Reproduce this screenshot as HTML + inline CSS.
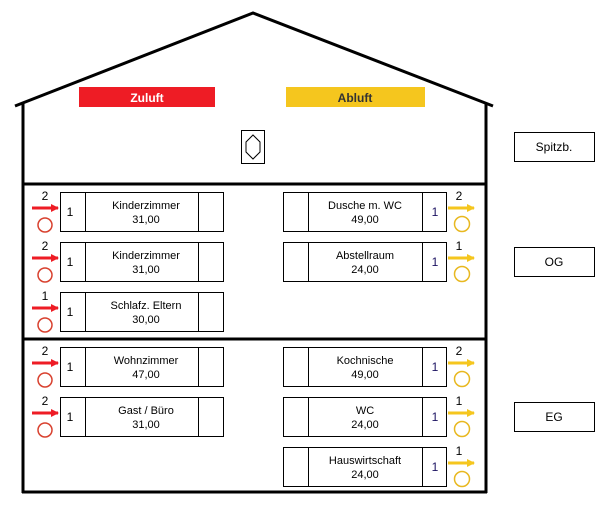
<!DOCTYPE html>
<html><head><style>
body{margin:0;background:#fff;}
svg text{font-family:"Liberation Sans",sans-serif;}
</style></head><body>
<svg width="613" height="514" viewBox="0 0 613 514" xmlns="http://www.w3.org/2000/svg">
<defs>
<marker id="ar" markerWidth="8" markerHeight="8" refX="7" refY="4" orient="auto" markerUnits="userSpaceOnUse"><path d="M0,0 L8,4 L0,8 z" fill="#ee1c25"/></marker>
<marker id="ay" markerWidth="8" markerHeight="8" refX="7" refY="4" orient="auto" markerUnits="userSpaceOnUse"><path d="M0,0 L8,4 L0,8 z" fill="#f5c61e"/></marker>
</defs>
<g stroke="#000" stroke-width="3" fill="none">
<polyline points="15,106 253,13 493,106"/>
<line x1="23" y1="103" x2="23" y2="493"/>
<line x1="486" y1="103" x2="486" y2="493"/>
<line x1="22" y1="492" x2="487" y2="492"/>
<line x1="22" y1="184" x2="487" y2="184"/>
<line x1="22" y1="339" x2="487" y2="339"/>
</g>
<rect x="79" y="87" width="136" height="20" fill="#ee1c25"/>
<text x="147" y="102" text-anchor="middle" font-size="12" font-weight="bold" fill="#fff">Zuluft</text>
<rect x="286" y="87" width="139" height="20" fill="#f5c61e"/>
<text x="355" y="102" text-anchor="middle" font-size="12" font-weight="bold" fill="#333">Abluft</text>
<rect x="241.5" y="130.5" width="23" height="33" fill="none" stroke="#000"/>
<polygon points="253,135 260,142 260,152 253,159 246,152 246,142" fill="none" stroke="#000"/>
<g fill="none" stroke="#000">
<rect x="514.5" y="132.5" width="80" height="29"/>
<rect x="514.5" y="247.5" width="80" height="29"/>
<rect x="514.5" y="402.5" width="80" height="29"/>
</g>
<g font-size="12" text-anchor="middle">
<text x="554" y="151">Spitzb.</text>
<text x="554" y="266">OG</text>
<text x="554" y="421">EG</text>
</g>
<g font-size="11" text-anchor="middle" stroke-width="1">
<!-- left rooms -->
<g transform="translate(0,0)">
<rect x="60.5" y="192.5" width="163" height="39" fill="none" stroke="#000"/><line x1="85.5" y1="192" x2="85.5" y2="232" stroke="#000"/><line x1="198.5" y1="192" x2="198.5" y2="232" stroke="#000"/>
<text x="70" y="216" font-size="12">1</text><text x="146" y="209">Kinderzimmer</text><text x="146" y="223">31,00</text>
<text x="45" y="200" font-size="12">2</text><line x1="32" y1="208" x2="58" y2="208" stroke="#ee1c25" stroke-width="3" marker-end="url(#ar)"/><circle cx="45" cy="225" r="7" fill="none" stroke="#d8402e" stroke-width="1.5"/>
</g>
<g transform="translate(0,50)">
<rect x="60.5" y="192.5" width="163" height="39" fill="none" stroke="#000"/><line x1="85.5" y1="192" x2="85.5" y2="232" stroke="#000"/><line x1="198.5" y1="192" x2="198.5" y2="232" stroke="#000"/>
<text x="70" y="216" font-size="12">1</text><text x="146" y="209">Kinderzimmer</text><text x="146" y="223">31,00</text>
<text x="45" y="200" font-size="12">2</text><line x1="32" y1="208" x2="58" y2="208" stroke="#ee1c25" stroke-width="3" marker-end="url(#ar)"/><circle cx="45" cy="225" r="7" fill="none" stroke="#d8402e" stroke-width="1.5"/>
</g>
<g transform="translate(0,100)">
<rect x="60.5" y="192.5" width="163" height="39" fill="none" stroke="#000"/><line x1="85.5" y1="192" x2="85.5" y2="232" stroke="#000"/><line x1="198.5" y1="192" x2="198.5" y2="232" stroke="#000"/>
<text x="70" y="216" font-size="12">1</text><text x="146" y="209">Schlafz. Eltern</text><text x="146" y="223">30,00</text>
<text x="45" y="200" font-size="12">1</text><line x1="32" y1="208" x2="58" y2="208" stroke="#ee1c25" stroke-width="3" marker-end="url(#ar)"/><circle cx="45" cy="225" r="7" fill="none" stroke="#d8402e" stroke-width="1.5"/>
</g>
<g transform="translate(0,155)">
<rect x="60.5" y="192.5" width="163" height="39" fill="none" stroke="#000"/><line x1="85.5" y1="192" x2="85.5" y2="232" stroke="#000"/><line x1="198.5" y1="192" x2="198.5" y2="232" stroke="#000"/>
<text x="70" y="216" font-size="12">1</text><text x="146" y="209">Wohnzimmer</text><text x="146" y="223">47,00</text>
<text x="45" y="200" font-size="12">2</text><line x1="32" y1="208" x2="58" y2="208" stroke="#ee1c25" stroke-width="3" marker-end="url(#ar)"/><circle cx="45" cy="225" r="7" fill="none" stroke="#d8402e" stroke-width="1.5"/>
</g>
<g transform="translate(0,205)">
<rect x="60.5" y="192.5" width="163" height="39" fill="none" stroke="#000"/><line x1="85.5" y1="192" x2="85.5" y2="232" stroke="#000"/><line x1="198.5" y1="192" x2="198.5" y2="232" stroke="#000"/>
<text x="70" y="216" font-size="12">1</text><text x="146" y="209">Gast / Büro</text><text x="146" y="223">31,00</text>
<text x="45" y="200" font-size="12">2</text><line x1="32" y1="208" x2="58" y2="208" stroke="#ee1c25" stroke-width="3" marker-end="url(#ar)"/><circle cx="45" cy="225" r="7" fill="none" stroke="#d8402e" stroke-width="1.5"/>
</g>
<!-- right rooms -->
<g transform="translate(0,0)">
<rect x="283.5" y="192.5" width="163" height="39" fill="none" stroke="#000"/><line x1="308.5" y1="192" x2="308.5" y2="232" stroke="#000"/><line x1="422.5" y1="192" x2="422.5" y2="232" stroke="#000"/>
<text x="435" y="216" font-size="12" fill="#1a1060">1</text><text x="365" y="209">Dusche m. WC</text><text x="365" y="223">49,00</text>
<text x="459" y="200" font-size="12">2</text><line x1="448" y1="208" x2="474" y2="208" stroke="#f5c61e" stroke-width="3" marker-end="url(#ay)"/><circle cx="462" cy="224" r="7.5" fill="none" stroke="#e8b820" stroke-width="1.5"/>
</g>
<g transform="translate(0,50)">
<rect x="283.5" y="192.5" width="163" height="39" fill="none" stroke="#000"/><line x1="308.5" y1="192" x2="308.5" y2="232" stroke="#000"/><line x1="422.5" y1="192" x2="422.5" y2="232" stroke="#000"/>
<text x="435" y="216" font-size="12" fill="#1a1060">1</text><text x="365" y="209">Abstellraum</text><text x="365" y="223">24,00</text>
<text x="459" y="200" font-size="12">1</text><line x1="448" y1="208" x2="474" y2="208" stroke="#f5c61e" stroke-width="3" marker-end="url(#ay)"/><circle cx="462" cy="224" r="7.5" fill="none" stroke="#e8b820" stroke-width="1.5"/>
</g>
<g transform="translate(0,155)">
<rect x="283.5" y="192.5" width="163" height="39" fill="none" stroke="#000"/><line x1="308.5" y1="192" x2="308.5" y2="232" stroke="#000"/><line x1="422.5" y1="192" x2="422.5" y2="232" stroke="#000"/>
<text x="435" y="216" font-size="12" fill="#1a1060">1</text><text x="365" y="209">Kochnische</text><text x="365" y="223">49,00</text>
<text x="459" y="200" font-size="12">2</text><line x1="448" y1="208" x2="474" y2="208" stroke="#f5c61e" stroke-width="3" marker-end="url(#ay)"/><circle cx="462" cy="224" r="7.5" fill="none" stroke="#e8b820" stroke-width="1.5"/>
</g>
<g transform="translate(0,205)">
<rect x="283.5" y="192.5" width="163" height="39" fill="none" stroke="#000"/><line x1="308.5" y1="192" x2="308.5" y2="232" stroke="#000"/><line x1="422.5" y1="192" x2="422.5" y2="232" stroke="#000"/>
<text x="435" y="216" font-size="12" fill="#1a1060">1</text><text x="365" y="209">WC</text><text x="365" y="223">24,00</text>
<text x="459" y="200" font-size="12">1</text><line x1="448" y1="208" x2="474" y2="208" stroke="#f5c61e" stroke-width="3" marker-end="url(#ay)"/><circle cx="462" cy="224" r="7.5" fill="none" stroke="#e8b820" stroke-width="1.5"/>
</g>
<g transform="translate(0,255)">
<rect x="283.5" y="192.5" width="163" height="39" fill="none" stroke="#000"/><line x1="308.5" y1="192" x2="308.5" y2="232" stroke="#000"/><line x1="422.5" y1="192" x2="422.5" y2="232" stroke="#000"/>
<text x="435" y="216" font-size="12" fill="#1a1060">1</text><text x="365" y="209">Hauswirtschaft</text><text x="365" y="223">24,00</text>
<text x="459" y="200" font-size="12">1</text><line x1="448" y1="208" x2="474" y2="208" stroke="#f5c61e" stroke-width="3" marker-end="url(#ay)"/><circle cx="462" cy="224" r="7.5" fill="none" stroke="#e8b820" stroke-width="1.5"/>
</g>
</g>
</svg>
</body></html>
